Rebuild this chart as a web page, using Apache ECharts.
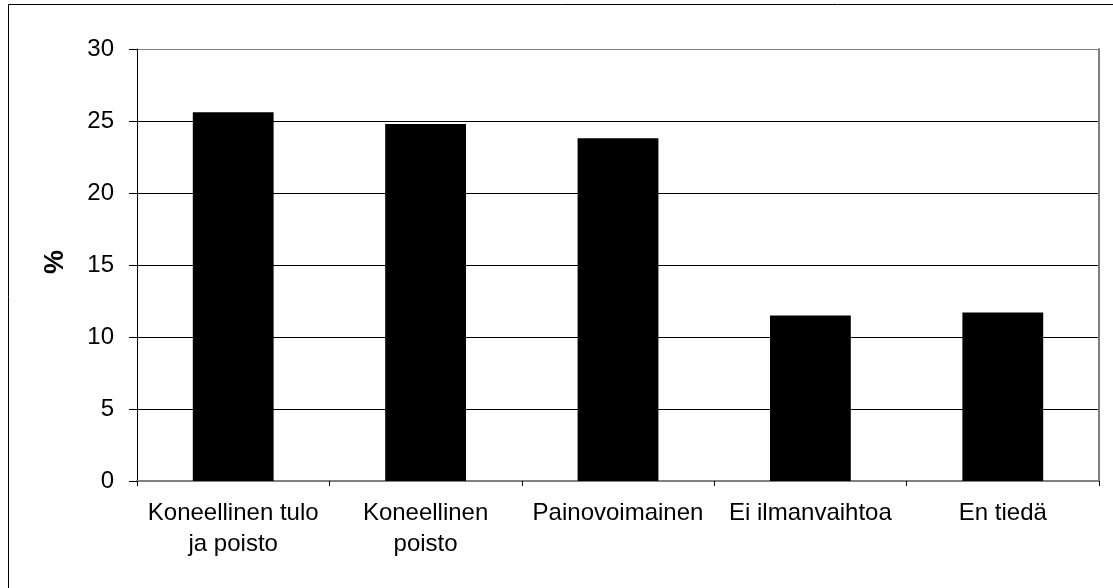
<!DOCTYPE html>
<html>
<head>
<meta charset="utf-8">
<script src="https://cdn.jsdelivr.net/npm/echarts@6/dist/echarts.min.js"></script>
<style>
html,body{margin:0;padding:0;background:#fff;}
#c{width:1113px;height:588px;}
</style>
</head>
<body>
<div id="c"></div>
<script>
const categories = ['Koneellinen tulo\nja poisto', 'Koneellinen\npoisto', 'Painovoimainen', 'Ei ilmanvaihtoa', 'En tiedä'];
const values = [25.6, 24.8, 23.8, 11.5, 11.7];
const yTicks = [0, 5, 10, 15, 20, 25, 30];

const FONT = 'Liberation Sans, Arial, sans-serif';
const chart = echarts.init(document.getElementById('c'), null, {renderer: 'canvas'});
chart.setOption({
  animation: false,
  backgroundColor: '#fff',
  graphic: [{
    type: 'rect', silent: true, z: 100,
    shape: {x: 8.5, y: 4.5, width: 1300, height: 800},
    style: {fill: 'none', stroke: '#000', lineWidth: 1}
  }],
  grid: {left: 137, right: 14, top: 49, bottom: 107, show: false},
  xAxis: [{
    type: 'category',
    data: categories,
    axisLine: {show: true, lineStyle: {color: '#000', width: 1}},
    axisTick: {show: true, length: 5, lineStyle: {color: '#000'}},
    axisLabel: {color: '#000', fontFamily: FONT, fontSize: 24, lineHeight: 31, margin: 17, interval: 0},
    splitLine: {show: false}
  }, {
    type: 'category',
    position: 'top',
    data: categories,
    axisLine: {show: true, lineStyle: {color: '#808080', width: 2}},
    axisTick: {show: false},
    axisLabel: {show: false}
  }],
  yAxis: [{
    type: 'value',
    min: yTicks[0],
    max: yTicks[yTicks.length - 1],
    interval: 5,
    name: '%',
    nameLocation: 'middle',
    nameGap: 68,
    nameTextStyle: {color: '#000', fontFamily: FONT, fontSize: 27, fontWeight: 'bold', padding: [0, 0, 0, 6]},
    axisLine: {show: true, lineStyle: {color: '#000', width: 1}},
    axisTick: {show: true, length: 8, lineStyle: {color: '#000'}},
    axisLabel: {color: '#000', fontFamily: FONT, fontSize: 24, margin: 23},
    splitLine: {show: true, lineStyle: {color: ['#000','#000','#000','#000','#000','#000','#808080'], width: 1}}
  }, {
    type: 'value',
    position: 'right',
    min: yTicks[0],
    max: yTicks[yTicks.length - 1],
    interval: 5,
    axisLine: {show: true, lineStyle: {color: '#808080', width: 2}},
    axisTick: {show: false},
    axisLabel: {show: false},
    splitLine: {show: false}
  }],
  series: [{
    type: 'bar',
    data: values,
    barWidth: '42%',
    itemStyle: {color: '#000'}
  }]
});
</script>
</body>
</html>
